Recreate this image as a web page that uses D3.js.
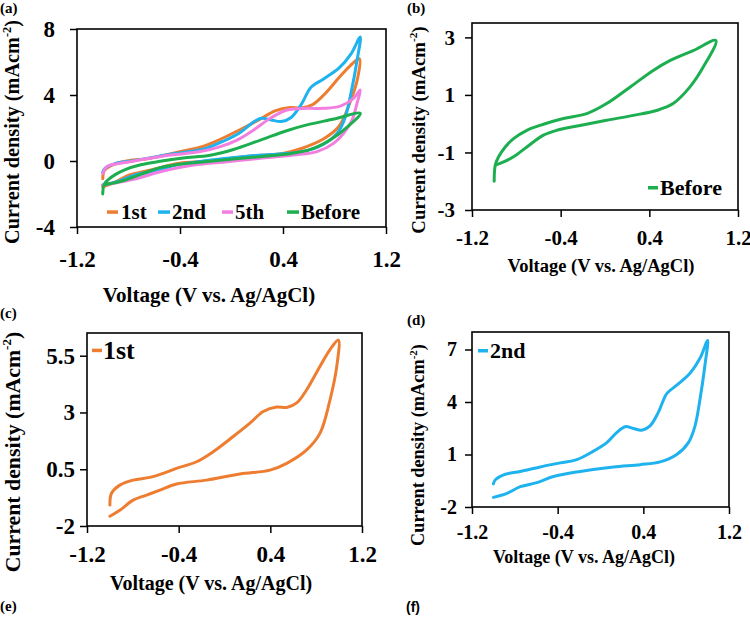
<!DOCTYPE html>
<html>
<head>
<meta charset="utf-8">
<script src="https://cdn.jsdelivr.net/npm/d3@7"></script>
</head>
<body style="margin:0; background:#fff">
<svg id="chart" width="750" height="617"></svg>
<script>
// cyclic voltammograms, each point is [voltage (V vs. Ag/AgCl), current density (mA cm-2)]
const before = [
  [-1.00, -2.00], [-0.99, -1.44], [-0.96, -1.15], [-0.90, -0.81], [-0.825, -0.52], [-0.705, -0.23],
  [-0.555, -0.02], [-0.375, 0.18], [-0.165, 0.35], [0.015, 0.70], [0.225, 1.27], [0.435, 1.85],
  [0.585, 2.19], [0.795, 2.54], [1.00, 2.89],
  [0.885, 1.96], [0.765, 1.27], [0.615, 0.70], [0.465, 0.46], [0.255, 0.29], [0.015, 0.12],
  [-0.225, -0.06], [-0.435, -0.23], [-0.555, -0.40], [-0.705, -0.81], [-0.825, -1.15],
  [-0.915, -1.33], [-0.99, -1.44]
]
const first = [
  [-1.00, -1.08], [-0.987, -0.57], [-0.914, -0.20], [-0.798, 0.02], [-0.652, 0.14], [-0.536, 0.32],
  [-0.419, 0.54], [-0.244, 0.83], [-0.099, 1.27], [0.076, 1.94], [0.222, 2.53], [0.338, 3.04],
  [0.455, 3.24], [0.543, 3.22], [0.630, 3.42], [0.717, 4.00], [0.834, 5.04], [0.921, 5.77], [0.994, 6.19],
  [0.980, 5.04], [0.921, 3.56], [0.834, 2.09], [0.717, 1.35], [0.543, 0.76], [0.397, 0.46],
  [0.135, 0.29], [-0.156, 0.02], [-0.419, -0.15], [-0.564, -0.42], [-0.681, -0.64], [-0.798, -0.86],
  [-0.914, -1.31], [-1.00, -1.57]
]
const second = [
  [-1.00, -0.68], [-0.983, -0.45], [-0.905, -0.16], [-0.749, 0.03], [-0.563, 0.29], [-0.376, 0.52],
  [-0.221, 0.71], [-0.066, 1.19], [0.059, 1.68], [0.153, 2.26], [0.230, 2.59], [0.307, 2.49],
  [0.386, 2.39], [0.463, 2.64], [0.541, 3.42], [0.619, 4.48], [0.712, 4.96], [0.836, 5.64],
  [0.930, 6.51], [1.00, 7.52],
  [0.976, 6.13], [0.930, 4.19], [0.883, 2.64], [0.821, 1.68], [0.712, 1.00], [0.557, 0.58],
  [0.370, 0.42], [0.121, 0.29], [-0.190, 0.03], [-0.439, -0.26], [-0.594, -0.61], [-0.749, -0.84],
  [-0.874, -1.22], [-1.00, -1.45]
]
const fifth = [
  [-1.00, -0.75], [-0.967, -0.34], [-0.864, -0.14], [-0.683, 0.10], [-0.475, 0.36], [-0.242, 0.57],
  [-0.087, 0.87], [0.043, 1.27], [0.172, 1.88], [0.301, 2.59], [0.431, 3.09], [0.586, 3.19],
  [0.715, 3.19], [0.845, 3.33], [0.948, 3.80], [1.00, 4.30],
  [0.975, 3.50], [0.936, 2.48], [0.871, 1.68], [0.793, 1.07], [0.664, 0.57], [0.482, 0.36],
  [0.224, 0.16], [-0.035, -0.04], [-0.294, -0.24], [-0.553, -0.65], [-0.760, -1.11],
  [-0.916, -1.35], [-1.00, -1.45]
]

const xDomain = [-1.2, 1.2]
const xTicks = [-1.2, -0.4, 0.4, 1.2]
const yTicksA = [-4, 0, 4, 8]
const yTicksB = [-3, -1, 1, 3]
const yTicksC = [-2, 0.5, 3, 5.5]
const yTicksD = [-2, 1, 4, 7]

const seriesFirst = {name: "1st", values: first, color: "#ED7D31"}
const seriesSecond = {name: "2nd", values: second, color: "#1EB2EE"}
const seriesFifth = {name: "5th", values: fifth, color: "#F27FE0"}
const seriesBefore = {name: "Before", values: before, color: "#1DAE4F"}

const xTitle = "Voltage (V vs. Ag/AgCl)"
const serif = "Liberation Serif"

const svg = d3.select("#chart")

const panels = [
  {label: "(a)", labelX: 0, labelY: 13, left: 77, right: 386, top: 29, bottom: 227,
   yDomain: [-4, 8], yTicks: yTicksA, tickFont: 23, yPad: 15, xLabelY: 40,
   xTitleX: 209, xTitleY: 302, xTitleFont: 21, yTitleX: 19, yTitleY: 132, yTitleFont: 20.3,
   series: [seriesFirst, seriesSecond, seriesFifth, seriesBefore],
   legend: [
     {s: seriesFirst, x: 107, len: 11, tx: 121},
     {s: seriesSecond, x: 158, len: 12, tx: 172},
     {s: seriesFifth, x: 222, len: 11, tx: 235},
     {s: seriesBefore, x: 287, len: 12, tx: 301}
   ], legendY: 219, legendFont: 21},
  {label: "(b)", labelX: 407, labelY: 13, left: 472, right: 738, top: 23, bottom: 210,
   yDomain: [-3, 3.5], yTicks: yTicksB, tickFont: 21, yPad: 10, xLabelY: 35,
   xTitleX: 601, xTitleY: 272, xTitleFont: 18.5, yTitleX: 425, yTitleY: 130, yTitleFont: 18.8,
   series: [seriesBefore],
   legend: [{s: seriesBefore, x: 648, len: 10, tx: 660}], legendY: 195, legendFont: 22},
  {label: "(c)", labelX: 0, labelY: 318, left: 87, right: 362, top: 333, bottom: 526,
   yDomain: [-2, 6.5], yTicks: yTicksC, tickFont: 23, yPad: 5, xLabelY: 36,
   xTitleX: 211, xTitleY: 590, xTitleFont: 20, yTitleX: 19.5, yTitleY: 452, yTitleFont: 21.8,
   series: [seriesFirst],
   legend: [{s: seriesFirst, x: 92, len: 10, tx: 103}], legendY: 359, legendFont: 26},
  {label: "(d)", labelX: 407, labelY: 325, left: 472, right: 729, top: 332, bottom: 507,
   yDomain: [-2, 8], yTicks: yTicksD, tickFont: 20, yPad: 8, xLabelY: 32,
   xTitleX: 584, xTitleY: 563, xTitleFont: 18, yTitleX: 424, yTitleY: 445, yTitleFont: 18.3,
   series: [seriesSecond],
   legend: [{s: seriesSecond, x: 478, len: 10, tx: 490}], legendY: 358, legendFont: 22}
]

panels.forEach(drawPanel)

// empty panel captions at the bottom
addText(svg, 0, 611, 15, "(e)")
addText(svg, 406, 612, 14, "(f)").attr("font-family", "Liberation Sans")

function addText(sel, x, y, size, str) {
  return sel.append("text")
      .attr("x", x).attr("y", y)
      .attr("font-family", serif).attr("font-weight", "bold")
      .attr("font-size", size).attr("fill", "#000")
      .text(str)
}

function drawPanel(p) {
  const xScale = d3.scaleLinear().domain(xDomain).range([p.left, p.right])
  const yScale = d3.scaleLinear().domain(p.yDomain).range([p.bottom, p.top])
  const g = svg.append("g")

  addText(g, p.labelX, p.labelY, 15, p.label)

  const yAxis = g.append("g")
      .attr("transform", `translate(${p.left},0)`)
      .call(d3.axisLeft(yScale).tickValues(p.yTicks).tickSize(7).tickSizeOuter(0)
          .tickPadding(p.yPad).tickFormat(d => String(d)))
  yAxis.select(".domain").remove()
  yAxis.selectAll("line").attr("stroke-width", 1.5)

  const xAxis = g.append("g")
      .attr("transform", `translate(0,${p.bottom})`)
      .call(d3.axisBottom(xScale).tickValues(xTicks).tickSize(7).tickSizeOuter(0)
          .tickFormat(d => String(d)))
  xAxis.select(".domain").remove()
  xAxis.selectAll("line").attr("stroke-width", 1.5)
  xAxis.selectAll("text").attr("y", p.xLabelY).attr("dy", null)

  g.selectAll(".tick text")
      .attr("font-family", serif).attr("font-weight", "bold")
      .attr("font-size", p.tickFont).attr("fill", "#000")

  g.append("rect")
      .attr("x", p.left).attr("y", p.top)
      .attr("width", p.right - p.left).attr("height", p.bottom - p.top)
      .attr("fill", "none").attr("stroke", "#000").attr("stroke-width", 1.6)

  const line = d3.line()
      .x(d => xScale(d[0]))
      .y(d => yScale(d[1]))
      .curve(d3.curveCatmullRom.alpha(0.5))

  g.selectAll("path.cv").data(p.series).join("path")
      .attr("class", "cv")
      .attr("d", d => line(d.values))
      .attr("fill", "none")
      .attr("stroke", d => d.color)
      .attr("stroke-width", 3)
      .attr("stroke-linejoin", "round")
      .attr("stroke-linecap", "round")

  // legend
  p.legend.forEach(item => {
    const midY = p.legendY - p.legendFont * 0.33
    g.append("line")
        .attr("x1", item.x).attr("x2", item.x + item.len)
        .attr("y1", midY).attr("y2", midY)
        .attr("stroke", item.s.color).attr("stroke-width", 3.5)
    addText(g, item.tx, p.legendY, p.legendFont, item.s.name)
  })

  // axis titles
  addText(g, p.xTitleX, p.xTitleY, p.xTitleFont, xTitle).attr("text-anchor", "middle")

  const fs = p.yTitleFont
  const yt = addText(g, 0, 0, fs, null)
      .attr("transform", `translate(${p.yTitleX},${p.yTitleY}) rotate(-90)`)
      .attr("text-anchor", "middle")
  yt.append("tspan").text("Current density (mAcm")
  yt.append("tspan").attr("dy", -0.4 * fs).attr("font-size", fs * 0.6).text("-2")
  yt.append("tspan").attr("dy", 0.4 * fs).text(")")
}
</script>
</body>
</html>
